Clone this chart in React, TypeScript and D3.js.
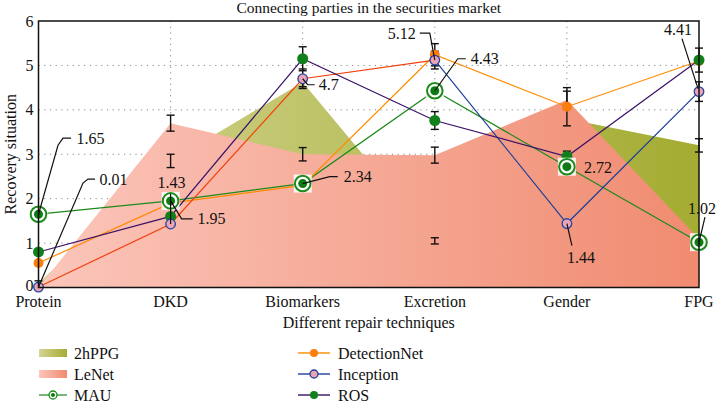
import React from "react";
import * as d3 from "d3";

const categories = ["Protein", "DKD", "Biomarkers", "Excretion", "Gender", "FPG"];
const yTicks = [0, 1, 2, 3, 4, 5, 6];

const hppgValues = [0.1, 2.85, 4.62, 1.05, 3.8, 3.2];
const hppgErr = [0.05, 0.15, 0.1, 0.07, 0, 0.15];
const lenetValues = [0, 3.7, 3.0, 2.98, 4.22, 1.1];
const lenetErr = [0, 0.18, 0.15, 0.18, 0.2, 0];
const mauValues = [1.65, 1.95, 2.34, 4.43, 2.72, 1.02];
const detectionValues = [0.55, 1.9, 2.3, 5.24, 4.07, 5.1];
const detectionErr = [0, 0, 0, 0.25, 0.43, 0];
const inceptionValues = [0.01, 1.43, 4.7, 5.12, 1.44, 4.41];
const inceptionErr = [0, 0, 0.22, 0.2, 0, 0.22];
const rosValues = [0.8, 1.6, 5.15, 3.76, 2.95, 5.12];
const rosErr = [0, 0, 0.27, 0.2, 0.12, 0.27];

type Lbl = { s: string; i: number; text: string; leader: [number, number][]; tx: number; ty: number; anchor: string };
const labels: Lbl[] = [
  { s: "MAU", i: 0, text: "1.65", leader: [[0, 0], [19.5, -69], [24.5, -76], [32.5, -76]], tx: 38, ty: -76, anchor: "start" },
  { s: "Inception", i: 0, text: "0.01", leader: [[0, 0], [44.5, -104], [49.5, -108], [56.5, -108]], tx: 61, ty: -108, anchor: "start" },
  { s: "Inception", i: 1, text: "1.43", leader: [[0, 0], [0, -30]], tx: 1, ty: -41, anchor: "middle" },
  { s: "MAU", i: 1, text: "1.95", leader: [[0, 0], [11, 18], [22, 18]], tx: 27, ty: 18, anchor: "start" },
  { s: "MAU", i: 2, text: "2.34", leader: [[0, 0], [27, -7], [35, -7]], tx: 41, ty: -7, anchor: "start" },
  { s: "Inception", i: 2, text: "4.7", leader: [[0, 0], [5, 6], [12, 6]], tx: 16, ty: 6, anchor: "start" },
  { s: "Inception", i: 3, text: "5.12", leader: [[0, 0], [-5, -27], [-15, -27]], tx: -19, ty: -27, anchor: "end" },
  { s: "MAU", i: 3, text: "4.43", leader: [[0, 0], [23, -32], [31, -32]], tx: 36, ty: -32, anchor: "start" },
  { s: "MAU", i: 4, text: "2.72", leader: [], tx: 17, ty: 1, anchor: "start" },
  { s: "Inception", i: 4, text: "1.44", leader: [[0, 0], [5, 22]], tx: 14, ty: 34, anchor: "middle" },
  { s: "Inception", i: 5, text: "4.41", leader: [[-1, -3], [-17, -53]], tx: -21, ty: -62, anchor: "middle" },
  { s: "MAU", i: 5, text: "1.02", leader: [[0, 0], [6, -25]], tx: 3, ty: -34, anchor: "middle" },
];

const FONT = "'Liberation Serif', 'Times New Roman', serif";
const W = 716, H = 403;
const L = 38.5, R = 699, T = 21, B = 287.5;
const TS = { fontFamily: FONT };

export default function App() {
  const x = d3.scalePoint<string>().domain(categories).range([L, R]).padding(0);
  const y = d3.scaleLinear().domain([0, 6]).range([B, T]);
  const px = (i: number) => x(categories[i]) as number;

  const area = d3.area<number>().x((_, i) => px(i)).y0(y(0)).y1((d) => y(d));
  const line = d3.line<number>().x((_, i) => px(i)).y((d) => y(d));

  const seriesVals: Record<string, number[]> = { MAU: mauValues, Inception: inceptionValues };

  const errBars: { v: number[]; e: number[] }[] = [
    { v: hppgValues, e: hppgErr },
    { v: lenetValues, e: lenetErr },
    { v: detectionValues, e: detectionErr },
    { v: inceptionValues, e: inceptionErr },
    { v: rosValues, e: rosErr },
  ];

  const inceptionPts = inceptionValues.map((v, i) => [px(i), y(v)] as [number, number]);
  const redPath = d3.line()(inceptionPts.slice(0, 4)) as string;
  const bluePath = d3.line()(inceptionPts.slice(3)) as string;

  return (
    <svg width={W} height={H} style={{ position: "absolute", left: 0, top: 0, background: "#fff", fontFamily: FONT }}>
      <defs>
        <linearGradient id="gGreen" gradientUnits="userSpaceOnUse" x1={L} x2={R} y1={0} y2={0}>
          <stop offset="0%" stopColor="#d3d592" />
          <stop offset="100%" stopColor="#a4ac32" />
        </linearGradient>
        <linearGradient id="gPink" gradientUnits="userSpaceOnUse" x1={L} x2={R} y1={0} y2={0}>
          <stop offset="0%" stopColor="#fbc6bb" />
          <stop offset="100%" stopColor="#f08b70" />
        </linearGradient>
        <linearGradient id="lgGreen" x1="0" x2="1" y1="0" y2="0">
          <stop offset="0%" stopColor="#d3d592" />
          <stop offset="100%" stopColor="#a4ac32" />
        </linearGradient>
        <linearGradient id="lgPink" x1="0" x2="1" y1="0" y2="0">
          <stop offset="0%" stopColor="#fbc6bb" />
          <stop offset="100%" stopColor="#f08b70" />
        </linearGradient>
        <clipPath id="plotClip">
          <rect x={L} y={T} width={R - L} height={B - T} />
        </clipPath>
      </defs>

      <text x={(L + R) / 2} y={13} textAnchor="middle" fontSize={15.5} fill="#111" style={TS}>
        Connecting parties in the securities market
      </text>

      {/* grid */}
      <g stroke="#888" strokeWidth={1} strokeDasharray="1.2,4.5">
        {yTicks.filter((t) => t > 0 && t < 6).map((t) => (
          <line key={"gy" + t} x1={L} x2={R} y1={y(t)} y2={y(t)} />
        ))}
        {categories.slice(1, -1).map((c) => (
          <line key={"gx" + c} x1={x(c)} x2={x(c)} y1={T} y2={B} />
        ))}
      </g>

      <g clipPath="url(#plotClip)">
        <path d={area(hppgValues) as string} fill="url(#gGreen)" />
        <path d={area(lenetValues) as string} fill="url(#gPink)" />
      </g>

      {/* lines */}
      <path d={line(mauValues) as string} fill="none" stroke="#1b8a1b" strokeWidth={1.2} />
      <path d={line(detectionValues) as string} fill="none" stroke="#ff8a00" strokeWidth={1.2} />
      <path d={redPath} fill="none" stroke="#f2400c" strokeWidth={1.2} />
      <path d={bluePath} fill="none" stroke="#1c3f9a" strokeWidth={1.2} />
      <path d={line(rosValues) as string} fill="none" stroke="#3a1268" strokeWidth={1.2} />

      {/* error bars */}
      <g stroke="#111" strokeWidth={1.4}>
        {errBars.flatMap((s, si) =>
          s.v.map((v, i) => {
            const e = s.e[i];
            if (!e) return null;
            const cx = px(i);
            return (
              <g key={`e${si}-${i}`}>
                <line x1={cx} x2={cx} y1={y(v + e)} y2={y(v - e)} />
                <line x1={cx - 4} x2={cx + 4} y1={y(v + e)} y2={y(v + e)} />
                <line x1={cx - 4} x2={cx + 4} y1={y(v - e)} y2={y(v - e)} />
              </g>
            );
          })
        )}
      </g>

      {/* markers */}
      {detectionValues.map((v, i) => (
        <circle key={"d" + i} cx={px(i)} cy={y(v)} r={5} fill="#fb7d0b" />
      ))}
      {rosValues.map((v, i) => (
        <circle key={"r" + i} cx={px(i)} cy={y(v)} r={5.5} fill="#10801a" />
      ))}
      {inceptionValues.map((v, i) => (
        <circle key={"in" + i} cx={px(i)} cy={y(v)} r={4.8} fill="#eaa4b4" stroke="#2444a0" strokeWidth={1.3} />
      ))}
      {mauValues.map((v, i) => (
        <g key={"m" + i} transform={`translate(${px(i)},${y(v)})`}>
          <rect x={-9} y={-9} width={18} height={18} fill="#fff" opacity={0.85} />
          <circle r={7.8} fill="#fff" stroke="#1b8a1b" strokeWidth={2} />
          <circle r={4.5} fill="#0e7a12" />
        </g>
      ))}

      {/* data labels */}
      <g fontSize={16} fill="#111">
        {labels.map((lb, k) => {
          const vals = seriesVals[lb.s];
          const cx = px(lb.i), cy = y(vals[lb.i]);
          const pts = lb.leader.map(([dx, dy]) => [cx + dx, cy + dy] as [number, number]);
          return (
            <g key={"lb" + k}>
              {pts.length > 1 && (
                <path d={d3.line()(pts) as string} fill="none" stroke="#111" strokeWidth={1.2} />
              )}
              <text x={cx + lb.tx} y={cy + lb.ty} textAnchor={lb.anchor} dominantBaseline="central" style={TS}>
                {lb.text}
              </text>
            </g>
          );
        })}
      </g>

      {/* frame */}
      <rect x={L} y={T} width={R - L} height={B - T} fill="none" stroke="#111" strokeWidth={1.5} />

      {/* axes labels */}
      <g fontSize={16} fill="#111">
        {yTicks.map((t) => (
          <text key={"yt" + t} x={L - 5} y={y(t) - (t === 0 ? 2 : 0)} textAnchor="end" dominantBaseline="central" style={TS}>
            {t}
          </text>
        ))}
        {categories.map((c) => (
          <text key={"xt" + c} x={x(c)} y={B + 14} textAnchor="middle" dominantBaseline="central" style={TS}>
            {c}
          </text>
        ))}
        <text x={(L + R) / 2} y={B + 35} textAnchor="middle" dominantBaseline="central" style={TS}>
          Different repair techniques
        </text>
        <text transform={`translate(10,${(T + B) / 2}) rotate(-90)`} textAnchor="middle" dominantBaseline="central" style={TS}>
          Recovery situation
        </text>
      </g>

      {/* legend */}
      <g fontSize={16} fill="#111">
        <rect x={39} y={349} width={28} height={8} fill="url(#lgGreen)" />
        <text x={74} y={353} dominantBaseline="central" style={TS}>2hPPG</text>
        <rect x={39} y={370} width={28} height={8} fill="url(#lgPink)" />
        <text x={74} y={374} dominantBaseline="central" style={TS}>LeNet</text>
        <line x1={39} x2={67} y1={395} y2={395} stroke="#1b8a1b" strokeWidth={1.2} />
        <circle cx={53} cy={395} r={4} fill="#fff" stroke="#1b8a1b" strokeWidth={1.3} />
        <circle cx={53} cy={395} r={2} fill="#0e7a12" />
        <text x={74} y={395} dominantBaseline="central" style={TS}>MAU</text>

        <line x1={298} x2={330} y1={353} y2={353} stroke="#ff8a00" strokeWidth={1.4} />
        <circle cx={314} cy={353} r={4} fill="#fb7d0b" />
        <text x={338} y={353} dominantBaseline="central" style={TS}>DetectionNet</text>
        <line x1={298} x2={330} y1={374} y2={374} stroke="#1c3f9a" strokeWidth={1.4} />
        <circle cx={314} cy={374} r={4} fill="#eaa4b4" stroke="#1c3f9a" strokeWidth={1.3} />
        <text x={338} y={374} dominantBaseline="central" style={TS}>Inception</text>
        <line x1={298} x2={330} y1={395} y2={395} stroke="#3a1268" strokeWidth={1.4} />
        <circle cx={314} cy={395} r={4} fill="#10801a" />
        <text x={338} y={395} dominantBaseline="central" style={TS}>ROS</text>
      </g>
    </svg>
  );
}
